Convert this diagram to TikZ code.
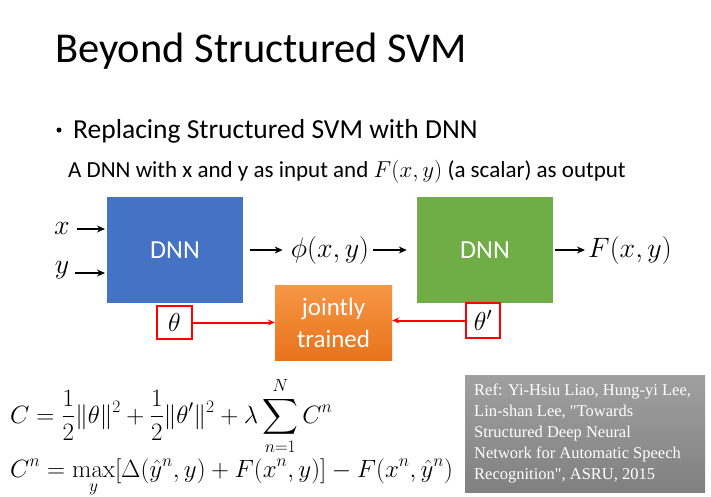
\RequirePackage{fix-cm}
\documentclass[tikz,border=0pt]{standalone}
\usepackage{amsmath}
\usepackage[no-math]{fontspec}
\setmainfont{Carlito}
\newfontfamily\reffont{Liberation Serif}
\usetikzlibrary{arrows.meta}
\definecolor{dnnblue}{HTML}{4472C4}
\definecolor{dnngreen}{HTML}{70AD47}
\definecolor{orgtop}{HTML}{F79646}
\definecolor{orgbot}{HTML}{E8731A}
\definecolor{redline}{HTML}{FF0000}
\tikzset{
  dnnbox/.style={minimum width=136pt,minimum height=106pt,inner sep=0pt,text=white,font=\fontsize{26}{30}\selectfont},
  arr/.style={line width=2pt,-{Stealth[length=8pt,width=7pt]}},
  redarr/.style={line width=2pt,draw=redline,-{Stealth[length=7pt,width=6pt]}},
  parbox/.style={draw=redline,line width=1.6pt,inner sep=0pt,fill=white},
  mathlbl/.style={inner sep=0pt,font=\fontsize{28}{32}\selectfont},
}
\begin{document}
\begin{tikzpicture}[x=1pt,y=-1pt]
\useasboundingbox[fill=white] (0,0) rectangle (711,496);
% title
\node[anchor=base west,inner sep=0pt,font=\fontsize{42.5}{46}\selectfont] (title) at (55,62) {Beyond Structured SVM};
\node[anchor=base west,inner sep=0pt,font=\fontsize{27.5}{32}\selectfont] (bullet) at (73,138) {Replacing Structured SVM with DNN};
\node[inner sep=0pt,circle,fill=black,minimum size=5pt] (dot) at (59,130) {};
\node[anchor=base west,inner sep=0pt,font=\fontsize{23}{27}\selectfont] (sub) at (68,177) {A DNN with x and y as input and $F(x,y)$ (a scalar) as output};
% boxes
\node[dnnbox,fill=dnnblue] (dnn1) at (175,250) {DNN};
\node[dnnbox,fill=dnngreen] (dnn2) at (485,250) {DNN};
\node[minimum width=117pt,minimum height=75pt,inner sep=0pt,top color=orgtop,bottom color=orgbot,text=white,align=center,font=\fontsize{25}{32}\selectfont] (joint) at (333.5,322.5) {jointly\\trained};
% labels
\node[mathlbl] (xl) at (62,228) {$x$};
\node[mathlbl] (yl) at (62,270) {$y$};
\node[mathlbl] (phi) at (330,250) {$\phi(x,y)$};
\node[mathlbl,anchor=west] (Fo) at (588,250) {$F(x,y)$};
\coordinate (xend) at (105,229);
\coordinate (yend) at (105,273);
\draw[arr] (77,229) -- (xend);
\draw[arr] (75,273) -- (yend);
\draw[arr] ([xshift=7pt]dnn1.east) -- ([xshift=-8pt]phi.west);
\draw[arr] ([xshift=4pt]phi.east) -- ([xshift=-10pt]dnn2.west);
\draw[arr] ([xshift=2pt]dnn2.east) -- ([xshift=-3pt]Fo.west);
% parameters
\node[parbox,minimum width=35pt,minimum height=33pt] (th1) at (174.5,322.5) {\fontsize{26}{30}\selectfont$\theta$};
\node[parbox,minimum width=34pt,minimum height=35pt] (th2) at (483,320.5) {\fontsize{26}{30}\selectfont$\theta'$};
\draw[redarr] (th1.east) -- (th1.east -| joint.west);
\draw[redarr] (th2.west) -- (th2.west -| joint.east);
% equations
\node[anchor=base west,inner sep=0pt,font=\fontsize{25}{30}\selectfont] (eq1) at (10,423)
  {$\displaystyle C=\frac{1}{2}\|\theta\|^2+\frac{1}{2}\|\theta'\|^2+\lambda\sum_{n=1}^{N}C^n$};
\node[anchor=base west,inner sep=0pt,font=\fontsize{25}{30}\selectfont] (eq2) at (10,477)
  {$\displaystyle C^n=\max_y[\Delta(\hat{y}^n,y)+F(x^n,y)]-F(x^n,\hat{y}^n)$};
% reference
\node[minimum width=240pt,minimum height=117pt,inner sep=0pt,top color={rgb,255:red,160;green,160;blue,160},bottom color={rgb,255:red,128;green,128;blue,128}] (refbox) at (585,433.5) {};
\node[anchor=north west,inner sep=0pt,text=white,align=left,font=\reffont\fontsize{16.5}{21}\selectfont] (reftext) at (474,384)
  {Ref: Yi-Hsiu Liao, Hung-yi Lee,\\Lin-shan Lee, "Towards\\Structured Deep Neural\\Network for Automatic Speech\\Recognition", ASRU, 2015};
\end{tikzpicture}
\end{document}
